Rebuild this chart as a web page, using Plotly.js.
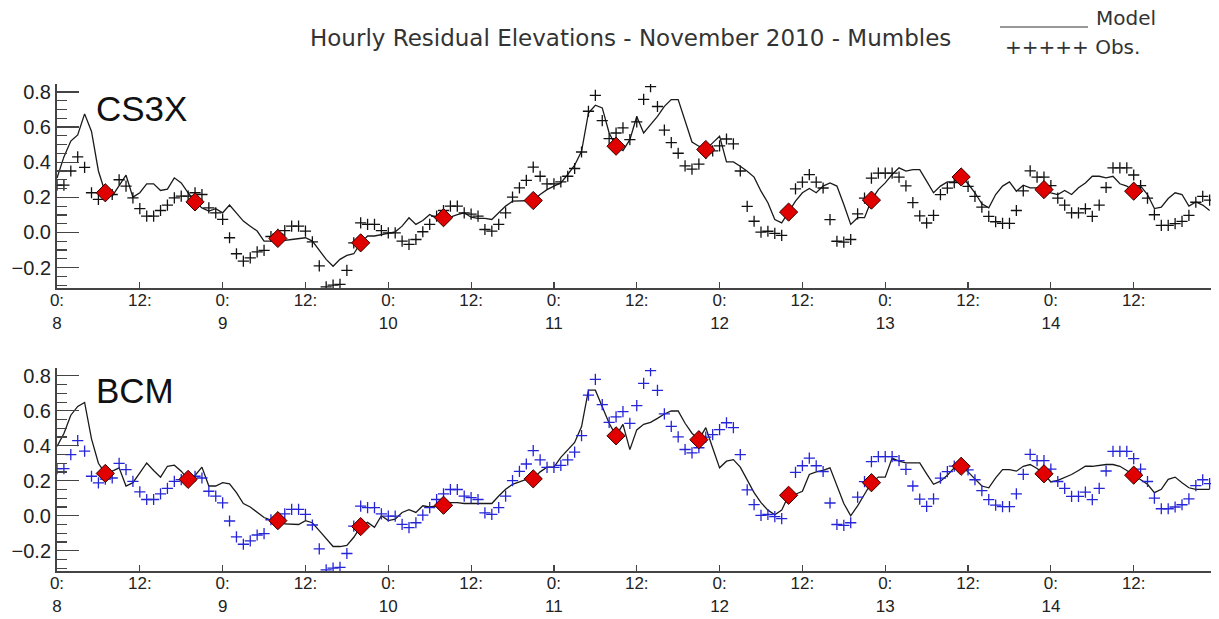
<!DOCTYPE html>
<html>
<head>
<meta charset="utf-8">
<script src="https://cdn.plot.ly/plotly-3.0.1.min.js"></script>
<style>html,body{margin:0;padding:0;background:#fff;} #chart{width:1219px;height:619px;}</style>
</head>
<body>
<div id="chart"></div>
<script>
// Observed hourly residuals (m), hour 0 = 0:00 on 8 November 2010
const obs = [
0.27,0.27,0.35,0.43,0.37,0.226,0.188,0.21,0.216,0.30,0.264,0.197,0.136,0.093,0.093,0.125,0.156,0.197,0.207,0.207,
0.226,0.216,0.14,0.112,0.074,-0.03,-0.121,-0.163,-0.144,-0.11,-0.102,-0.023,-0.01,0.011,0.036,0.036,0.008,-0.053,-0.19,-0.31,
-0.30,-0.295,-0.216,-0.059,0.055,0.046,0.046,0.011,-0.002,-0.002,-0.049,-0.068,-0.04,0.004,0.046,0.093,0.125,0.15,0.15,0.112,
0.104,0.093,0.017,0.008,0.046,0.112,0.201,0.254,0.296,0.372,0.32,0.277,0.277,0.288,0.32,0.364,0.458,0.69,0.78,0.636,
0.534,0.566,0.595,0.528,0.63,0.757,0.83,0.717,0.583,0.511,0.451,0.379,0.36,0.389,0.45,0.464,0.493,0.532,0.504,0.35,
0.148,0.064,0.002,0.007,-0.005,-0.016,0.10,0.248,0.286,0.329,0.286,0.253,0.073,-0.05,-0.055,-0.04,0.106,0.195,0.309,0.338,
0.338,0.338,0.315,0.265,0.17,0.095,0.054,0.097,0.215,0.252,0.284,0.30,0.262,0.206,0.144,0.092,0.061,0.052,0.052,0.125,
0.237,0.351,0.315,0.315,0.267,0.196,0.156,0.111,0.111,0.135,0.092,0.156,0.256,0.368,0.368,0.368,0.327,0.267,0.196,0.101,
0.04,0.04,0.05,0.063,0.097,0.172,0.206,0.184
];

// CS3X model residuals
const modelCS3X = [
0.31,0.43,0.52,0.555,0.675,0.575,0.35,0.226,0.207,0.264,0.326,0.201,0.226,0.277,0.277,0.239,0.247,0.311,0.282,0.226,
0.174,0.14,0.122,0.135,0.112,0.156,0.112,0.065,0.036,0.008,-0.049,-0.049,-0.034,-0.045,-0.04,-0.034,-0.03,-0.049,-0.102,-0.153,
-0.192,-0.153,-0.13,-0.121,-0.059,-0.02,-0.02,-0.011,-0.002,0.004,0.036,0.084,0.046,0.068,0.102,0.08,0.084,0.087,0.102,0.112,
0.087,0.08,0.08,0.074,0.112,0.15,0.178,0.178,0.178,0.182,0.216,0.244,0.264,0.282,0.33,0.383,0.462,0.68,0.724,0.709,
0.566,0.491,0.466,0.528,0.66,0.566,0.614,0.661,0.718,0.756,0.756,0.633,0.515,0.491,0.472,0.51,0.548,0.402,0.402,0.377,
0.349,0.315,0.235,0.169,0.074,0.055,0.116,0.178,0.226,0.25,0.226,0.264,0.282,0.264,0.159,0.046,0.084,0.084,0.184,0.244,
0.282,0.33,0.368,0.349,0.358,0.358,0.292,0.226,0.264,0.288,0.288,0.316,0.277,0.226,0.163,0.14,0.216,0.264,0.288,0.235,
0.269,0.254,0.254,0.244,0.226,0.216,0.239,0.216,0.254,0.282,0.32,0.32,0.311,0.32,0.277,0.264,0.235,0.264,0.216,0.136,
0.144,0.193,0.226,0.216,0.15,0.174,0.156,0.125
];

// BCM model residuals
const modelBCM = [
0.397,0.47,0.575,0.625,0.648,0.44,0.30,0.242,0.255,0.274,0.17,0.189,0.245,0.302,0.259,0.221,0.283,0.289,0.255,0.208,
0.23,0.278,0.17,0.17,0.189,0.183,0.132,0.07,0.05,0.02,-0.01,-0.025,-0.028,-0.047,-0.05,-0.05,-0.028,-0.04,-0.085,-0.132,
-0.176,-0.176,-0.17,-0.123,-0.062,-0.038,-0.066,0.0,-0.028,-0.02,0.019,0.035,0.019,0.057,0.05,0.057,0.06,0.075,0.075,0.07,
0.07,0.07,0.07,0.07,0.113,0.151,0.18,0.193,0.208,0.211,0.251,0.278,0.278,0.334,0.378,0.419,0.51,0.718,0.718,0.623,
0.529,0.457,0.523,0.378,0.491,0.523,0.534,0.557,0.582,0.599,0.599,0.529,0.472,0.435,0.504,0.387,0.274,0.312,0.321,0.278,
0.208,0.132,0.075,0.032,0.006,0.032,0.117,0.123,0.14,0.236,0.251,0.259,0.274,0.17,0.07,0.0,0.057,0.123,0.189,0.221,
0.221,0.33,0.312,0.302,0.302,0.302,0.24,0.18,0.198,0.232,0.274,0.283,0.251,0.208,0.17,0.16,0.217,0.264,0.264,0.255,
0.283,0.293,0.27,0.24,0.193,0.202,0.217,0.236,0.259,0.283,0.283,0.289,0.293,0.293,0.283,0.259,0.232,0.208,0.18,0.132,
0.151,0.208,0.221,0.189,0.16,0.151,0.151,0.151
];

// High-water markers (red diamonds)
const hwHoursCS3X = [7,20,32,44,56,69,81,94,106,118,131,143,156];
const hwCS3X      = [0.226,0.174,-0.034,-0.059,0.084,0.182,0.491,0.472,0.116,0.184,0.316,0.244,0.235];
const hwHoursBCM  = [7,19,32,44,56,69,81,93,106,118,131,143,156];
const hwBCM       = [0.242,0.208,-0.028,-0.062,0.06,0.211,0.457,0.435,0.117,0.189,0.283,0.24,0.232];

// Time axis
const hours = obs.map((_, i) => i);
const tickHours = [0,12,24,36,48,60,72,84,96,108,120,132,144,156];
const tickText  = ['0:<br>8','12:','0:<br>9','12:','0:<br>10','12:','0:<br>11','12:','0:<br>12','12:','0:<br>13','12:','0:<br>14','12:'];

const W = 1219, H = 619, ML = 57, MR = 8;
const px2x = p => (p - ML) / (W - ML - MR);
const px2y = p => 1 - p / H;

const lineStyle = {color: '#1a1a1a', width: 1.3};
const diamond = {symbol: 'diamond', size: 14, color: '#e00000', line: {color: '#300000', width: 1}};

const traces = [
  {x: hours, y: modelCS3X, xaxis: 'x', yaxis: 'y', mode: 'lines', line: lineStyle, name: 'Model', showlegend: false},
  {x: hours, y: obs, xaxis: 'x', yaxis: 'y', mode: 'markers', name: 'Obs.', showlegend: false,
   marker: {symbol: 'cross-thin', size: 8, line: {color: '#111', width: 1.3}}},
  {x: hwHoursCS3X, y: hwCS3X, xaxis: 'x', yaxis: 'y', mode: 'markers', marker: diamond, showlegend: false},
  {x: hours, y: modelBCM, xaxis: 'x2', yaxis: 'y2', mode: 'lines', line: lineStyle, name: 'Model', showlegend: false},
  {x: hours, y: obs, xaxis: 'x2', yaxis: 'y2', mode: 'markers', name: 'Obs.', showlegend: false,
   marker: {symbol: 'cross-thin', size: 8, line: {color: '#2424d8', width: 1.3}}},
  {x: hwHoursBCM, y: hwBCM, xaxis: 'x2', yaxis: 'y2', mode: 'markers', marker: diamond, showlegend: false}
];

const xaxisBase = {
  range: [0, 167.2], showgrid: false, zeroline: false, showline: true,
  linecolor: '#444', linewidth: 2, ticks: 'inside', ticklen: 6, tickcolor: '#444', tickwidth: 1.2,
  tickmode: 'array', tickvals: tickHours, ticktext: tickText, ticklabelstandoff: -4,
  tickfont: {family: 'Liberation Sans, Arial, sans-serif', size: 17, color: '#222'}
};
const yaxisBase = {
  range: [-0.316, 0.845], showgrid: false, zeroline: false, showline: true,
  linecolor: '#444', linewidth: 2, ticks: 'inside', ticklen: 22, tickcolor: '#444', tickwidth: 1.2,
  tickmode: 'linear', tick0: 0, dtick: 0.2, tickformat: '.1f',
  minor: {dtick: 0.05, tick0: 0, ticks: 'inside', ticklen: 10, tickcolor: '#444', tickwidth: 1.2, showgrid: false},
  tickfont: {family: 'Liberation Sans, Arial, sans-serif', size: 20, color: '#222'}
};

const textFont = {family: 'DejaVu Sans, sans-serif', size: 23, color: '#333'};
const legendFont = {family: 'DejaVu Sans, sans-serif', size: 20, color: '#333'};

const layout = {
  width: W, height: H,
  margin: {l: ML, r: MR, t: 0, b: 0},
  paper_bgcolor: '#fff', plot_bgcolor: '#fff',
  showlegend: false,
  xaxis: Object.assign({}, xaxisBase, {anchor: 'y', domain: [0, 1]}),
  yaxis: Object.assign({}, yaxisBase, {anchor: 'x', domain: [px2y(288), px2y(84)]}),
  xaxis2: Object.assign({}, xaxisBase, {anchor: 'y2', domain: [0, 1]}),
  yaxis2: Object.assign({}, yaxisBase, {anchor: 'x2', domain: [px2y(571), px2y(368)]}),
  annotations: [
    {xref: 'paper', yref: 'paper', x: px2x(630), y: px2y(38), xanchor: 'center', yanchor: 'middle',
     text: 'Hourly Residual Elevations - November 2010 - Mumbles', showarrow: false, font: textFont},
    {xref: 'paper', yref: 'paper', x: px2x(1094), y: px2y(18), xanchor: 'left', yanchor: 'middle',
     text: 'Model', showarrow: false, font: legendFont},
    {xref: 'paper', yref: 'paper', x: px2x(1003), y: px2y(47), xanchor: 'left', yanchor: 'middle',
     text: '+++++ Obs.', showarrow: false, font: legendFont},
    {xref: 'paper', yref: 'paper', x: px2x(94), y: px2y(108), xanchor: 'left', yanchor: 'middle',
     text: 'CS3X', showarrow: false, font: {family: 'Liberation Sans, Arial, sans-serif', size: 35, color: '#111'}},
    {xref: 'paper', yref: 'paper', x: px2x(94), y: px2y(390), xanchor: 'left', yanchor: 'middle',
     text: 'BCM', showarrow: false, font: {family: 'Liberation Sans, Arial, sans-serif', size: 35, color: '#111'}}
  ],
  shapes: [
    {type: 'line', xref: 'paper', yref: 'paper', x0: px2x(1000), x1: px2x(1088), y0: px2y(27), y1: px2y(27),
     line: {color: '#333', width: 1.2}}
  ]
};

Plotly.newPlot('chart', traces, layout, {displayModeBar: false, staticPlot: true});
</script>
</body>
</html>
